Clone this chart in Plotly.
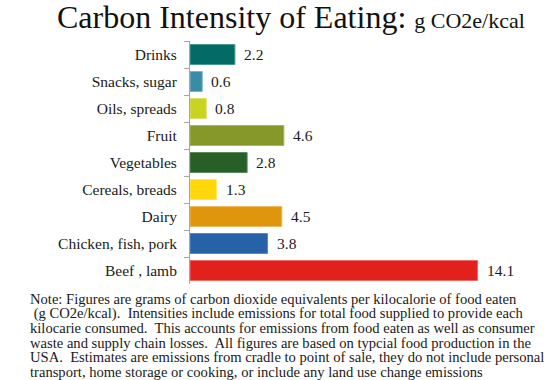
import plotly.graph_objects as go

categories = ["Drinks", "Snacks, sugar", "Oils, spreads", "Fruit", "Vegetables",
              "Cereals, breads", "Dairy", "Chicken, fish, pork", "Beef , lamb"]
values = [2.2, 0.6, 0.8, 4.6, 2.8, 1.3, 4.5, 3.8, 14.1]
colors = ["#036a66", "#3a8ca6", "#c8d420", "#86982a", "#285f26",
          "#ffd70a", "#e0960c", "#2762a8", "#e2211d"]
edge_colors = ["#4a9a96", "#7ab4c6", "#dde070", "#a6b460", "#5a8a58",
               "#ffe860", "#f0b860", "#5a8ac6", "#f06a66"]
value_labels = ["2.2", "0.6", "0.8", "4.6", "2.8", "1.3", "4.5", "3.8", "14.1"]

note_lines = [
    "Note: Figures are grams of carbon dioxide equivalents per kilocalorie of food eaten",
    "&nbsp;(g CO2e/kcal).  Intensities include emissions for total food supplied to provide each",
    "kilocarie consumed.  This accounts for emissions from food eaten as well as consumer",
    "waste and supply chain losses.  All figures are based on typcial food production in the",
    "USA.  Estimates are emissions from cradle to point of sale, they do not include personal",
    "transport, home storage or cooking, or include any land use change emissions",
]

W, H = 555, 380
L, R, T, B = 190, 15, 41, 96
PW, PH = W - L - R, H - T - B
FONT = "Liberation Serif"

def px(x):
    return (x - L) / PW

def py(y):
    return (H - B - y) / PH

fig = go.Figure()
fig.add_trace(go.Bar(
    x=values, y=categories, orientation="h",
    marker=dict(color=colors, line=dict(color=edge_colors, width=1)),
    hoverinfo="skip",
))

annotations = []
for c, v, t in zip(categories, values, value_labels):
    annotations.append(dict(x=v, y=c, xref="x", yref="y", text=t, showarrow=False,
                            xanchor="left", xshift=7,
                            font=dict(family=FONT, size=15.5, color="#1a1a1a")))

annotations.append(dict(
    x=px(291), y=py(17), xref="paper", yref="paper", showarrow=False,
    xanchor="center", yanchor="middle",
    text="Carbon Intensity of Eating: <span style='font-size:22px'>g CO2e/kcal</span>",
    font=dict(family=FONT, size=32, color="#111111")))

for i, line in enumerate(note_lines):
    annotations.append(dict(
        x=px(28), y=py(299 + i * 14.6), xref="paper", yref="paper", showarrow=False,
        xanchor="left", yanchor="middle", text=line.replace("  ", "&nbsp; "),
        font=dict(family=FONT, size=14.6, color="#1a1a1a")))

fig.update_layout(
    width=W, height=H,
    margin=dict(l=L, r=R, t=T, b=B),
    paper_bgcolor="white", plot_bgcolor="white",
    showlegend=False,
    bargap=0.26,
    annotations=annotations,
    xaxis=dict(range=[0, PW / 20.4], visible=False, fixedrange=True),
    yaxis=dict(categoryorder="array", categoryarray=categories, autorange="reversed",
               showline=True, linecolor="#a6a6a6", linewidth=1,
               ticks="outside", tickson="boundaries", ticklen=5, tickcolor="#a6a6a6",
               ticklabelstandoff=9,
               tickfont=dict(family=FONT, size=15.5, color="#1a1a1a"),
               showgrid=False, fixedrange=True),
)

fig.write_html("out.html", config={"displayModeBar": False},
               post_script="document.body.style.margin='0';")
